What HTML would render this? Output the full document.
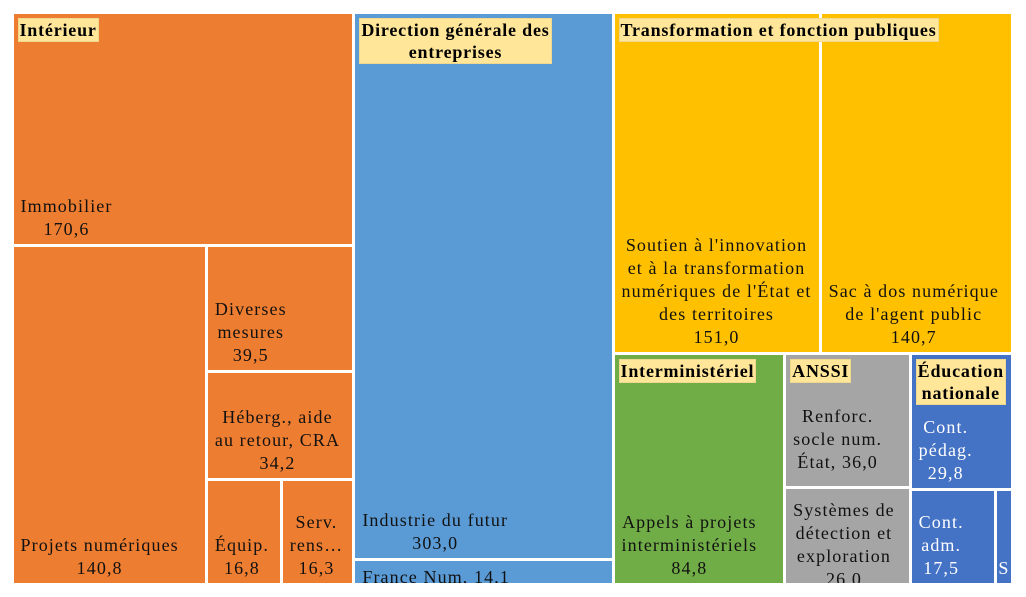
<!DOCTYPE html>
<html><head><meta charset="utf-8">
<style>
body{margin:0;background:#fff;width:1026px;height:597px;overflow:hidden;font-family:"Liberation Serif",serif;}
#chart{position:absolute;left:0;top:0;width:1026px;height:597px;}
.leaf{position:absolute;box-sizing:border-box;overflow:hidden;}
.lab{position:absolute;left:7px;bottom:3px;text-align:center;font-size:18px;letter-spacing:1.1px;line-height:23px;color:#111;white-space:nowrap;}
.hdr{position:absolute;background:#FFE699;font-weight:bold;font-size:18px;letter-spacing:0.8px;line-height:22px;color:#000;text-align:center;padding:0 1px;border:1px solid #f0d890;white-space:nowrap;}
</style></head><body>
<div id="chart"></div>
<script>
const groupNames=["Intérieur","Direction générale des<br>entreprises","Transformation et fonction publiques","Interministériel","ANSSI","Éducation<br>nationale"];
const groupColors=["#ED7D31","#5B9BD5","#FFC000","#70AD47","#A5A5A5","#4472C4"];
const leafLabels=["Immobilier","Projets numériques","Diverses<br>mesures","Héberg., aide<br>au retour, CRA","Équip.","Serv.<br>rens…","Industrie du futur","France Num, ","Soutien à l'innovation<br>et à la transformation<br>numériques de l'État et<br>des territoires","Sac à dos numérique<br>de l'agent public","Appels à projets<br>interministériels","Renforc.<br>socle num.<br>État, ","Systèmes de<br>détection et<br>exploration","Cont.<br>pédag.","Cont.<br>adm.","S"];
const leafValues=[170.6,140.8,39.5,34.2,16.8,16.3,303.0,14.1,151.0,140.7,84.8,36.0,26.0,29.8,17.5,3.5];
const valueLabels=["170,6","140,8","39,5","34,2","16,8","16,3","303,0","14,1","151,0","140,7","84,8","36,0","26,0","29,8","17,5",""];
const leafGroup=[0,0,0,0,0,0,1,1,2,2,3,4,4,5,5,5];
// layout tree: h = split horizontally, v = split vertically; numbers are leaf indices
const tree={d:'h',c:[
 {g:0,d:'v',c:[0,{d:'h',c:[1,{d:'v',c:[2,3,{d:'h',c:[4,5]}]}]}]},
 {g:1,d:'v',c:[6,7]},
 {d:'v',c:[{g:2,d:'h',c:[8,9]},{d:'h',c:[{g:3,d:'v',c:[10]},{g:4,d:'v',c:[11,12]},{g:5,d:'v',c:[13,{d:'h',c:[14,15]}]}]}]}
]};
const X0=12,Y0=12,W=1001,H=573,GAP=3;
const chart=document.getElementById('chart');
function total(n){return typeof n==='number'?leafValues[n]:n.c.reduce((s,k)=>s+total(k),0);}
const groupRects={};
function layout(n,x,y,w,h){
  if(typeof n==='number'){drawLeaf(n,x,y,w,h);return;}
  if(n.g!==undefined)groupRects[n.g]=[x,y,w,h];
  const t=total(n);let p=0;
  n.c.forEach(k=>{const f=total(k)/t;
    if(n.d==='h'){layout(k,x+p,y,w*f,h);p+=w*f;}else{layout(k,x,y+p,w,h*f);p+=h*f;}});
}
function drawLeaf(i,x,y,w,h){
  const d=document.createElement('div');
  d.className='leaf';
  
  
  d.style.left=(x+GAP/2)+'px';d.style.top=(y+GAP/2)+'px';
  d.style.width=(w-GAP)+'px';d.style.height=(h-GAP)+'px';
  d.style.background=groupColors[leafGroup[i]];
  const l=document.createElement('div');
  l.className='lab';
  
  
  if(leafGroup[i]===5)l.style.color='#fff';
  if(i===15){l.style.left='1px';}
  const inline=leafLabels[i].endsWith(', ');
  l.innerHTML=leafLabels[i]+(valueLabels[i]?(inline?' ':'<br>')+valueLabels[i]:'');
  if(i===7){l.style.bottom='-6px';}
  if(i===12){l.style.bottom='-8px';}
  if(i===11){l.style.bottom='12px';}
  d.appendChild(l);chart.appendChild(d);
}
layout(tree,X0,Y0,W,H);
Object.keys(groupRects).forEach(g=>{
  const r=groupRects[g];
  const e=document.createElement('div');
  e.className='hdr';
  
  
  e.innerHTML=groupNames[g];
  e.style.left=(r[0]+GAP/2+4)+'px';e.style.top=(r[1]+GAP/2+4)+'px';
  chart.appendChild(e);
});
</script>
</body></html>
